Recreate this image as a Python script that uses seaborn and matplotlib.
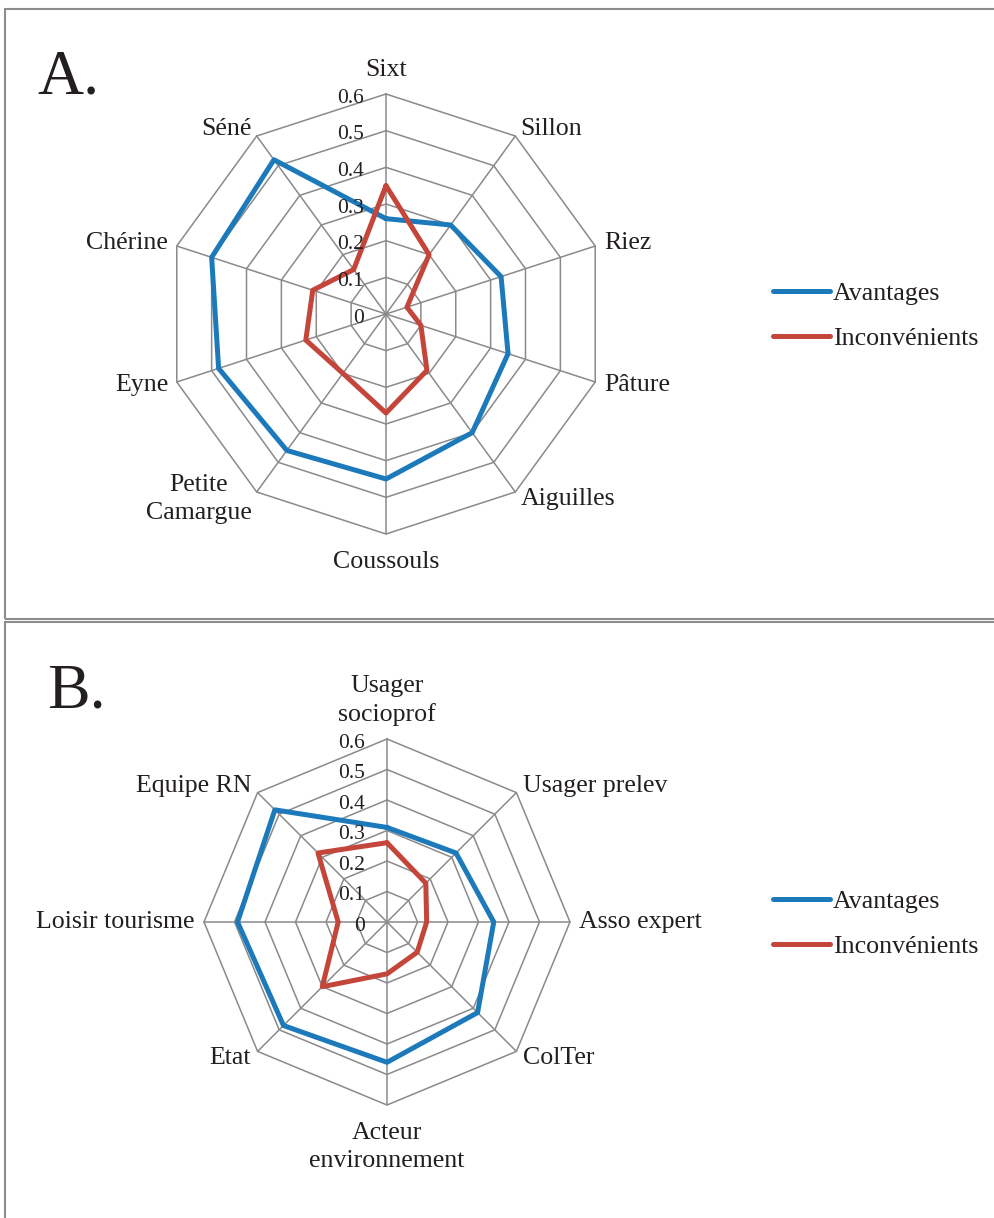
import numpy as np
import pandas as pd
import seaborn as sns
import matplotlib.pyplot as plt
from matplotlib.patches import Rectangle
from matplotlib.transforms import offset_copy

# Panel A data
sites = ["Sixt", "Sillon", "Riez", "Pâture", "Aiguilles", "Coussouls",
         "Petite\nCamargue", "Eyne", "Chérine", "Séné"]
sites_avantages = [0.26, 0.30, 0.33, 0.35, 0.40, 0.45, 0.46, 0.48, 0.50, 0.52]
sites_inconvenients = [0.35, 0.20, 0.06, 0.10, 0.19, 0.27, 0.20, 0.23, 0.21, 0.15]

# Panel B data
acteurs = ["Usager\nsocioprof", "Usager prelev", "Asso expert", "ColTer",
           "Acteur\nenvironnement", "Etat", "Loisir tourisme", "Equipe RN"]
acteurs_avantages = [0.31, 0.32, 0.35, 0.42, 0.46, 0.48, 0.49, 0.52]
acteurs_inconvenients = [0.26, 0.18, 0.13, 0.14, 0.17, 0.30, 0.16, 0.32]

rticks = [0, 0.1, 0.2, 0.3, 0.4, 0.5, 0.6]
rtick_labels = ["0", "0.1", "0.2", "0.3", "0.4", "0.5", "0.6"]
series_names = ["Avantages", "Inconvénients"]
colors = ["#1c7abb", "#c4453a"]

sns.set_style("white")
plt.rcParams["font.family"] = ["Liberation Serif", "DejaVu Serif"]

W, H = 994, 1218
fig = plt.figure(figsize=(W / 100, H / 100), dpi=100)
TXT = "#231f20"
GRID = "#8a8a8a"


def px_axes(cx, cy, r):
    return [(cx - r) / W, 1 - (cy + r) / H, 2 * r / W, 2 * r / H]


def radar(rect, labels, avantages, inconvenients, legend_y):
    ax = fig.add_axes(rect, projection="polar")
    ax.set_theta_zero_location("N")
    ax.set_theta_direction(-1)
    n = len(labels)
    theta = np.linspace(0, 2 * np.pi, n, endpoint=False)
    theta_closed = np.append(theta, 2 * np.pi)

    df = pd.concat([
        pd.DataFrame({"theta": theta_closed,
                      "value": list(avantages) + [avantages[0]],
                      "serie": series_names[0]}),
        pd.DataFrame({"theta": theta_closed,
                      "value": list(inconvenients) + [inconvenients[0]],
                      "serie": series_names[1]}),
    ])
    sns.lineplot(df, x="theta", y="value", hue="serie", palette=colors,
                 sort=False, linewidth=3.6, legend=False, ax=ax, zorder=3)
    data_lines = list(ax.lines)

    # polygon grid
    for r in rticks[1:]:
        ax.plot(theta_closed, [r] * (n + 1), color=GRID, lw=1.1, zorder=1,
                clip_on=False)
    for t in theta:
        ax.plot([t, t], [0, rticks[-1]], color=GRID, lw=1.1, zorder=1,
                clip_on=False)

    ax.set_ylim(0, rticks[-1])
    ax.set_xticks([])
    ax.set_yticks([])
    ax.grid(False)
    ax.spines["polar"].set_visible(False)
    ax.set_xlabel("")
    ax.set_ylabel("")
    ax.patch.set_alpha(0)

    # radial tick labels
    tr = offset_copy(ax.transData, fig=fig, x=-16, y=-3, units="points")
    for r, lab in zip(rticks, rtick_labels):
        ax.text(0, r, lab, transform=tr, ha="right", va="center",
                fontsize=15.5, color=TXT)

    # category labels
    for t, lab in zip(theta, labels):
        s, c = np.sin(t), np.cos(t)
        if abs(s) < 0.1:
            ha = "center"
            va = "bottom" if c > 0 else "top"
            dx, dy = 0, (9 if c > 0 else -12.5)
        else:
            ha = "left" if s > 0 else "right"
            va = "center"
            dx, dy = 6.5 * s, 6.5 * c
        tr = offset_copy(ax.transData, fig=fig, x=dx, y=dy, units="points")
        ax.text(t, rticks[-1], lab, transform=tr, ha=ha, va=va,
                fontsize=18.6, color=TXT, multialignment="center",
                linespacing=1.35)

    leg = ax.legend(data_lines, series_names, loc="center left",
                    bbox_to_anchor=(773 / W, 1 - legend_y / H),
                    bbox_transform=fig.transFigure, frameon=False,
                    borderpad=0, borderaxespad=0, handlelength=2.2,
                    handletextpad=0.12, labelspacing=0.84, fontsize=18.6)
    for t in leg.get_texts():
        t.set_color(TXT)
    return ax


radar(px_axes(386, 314, 220), sites, sites_avantages, sites_inconvenients,
      316)
radar(px_axes(387, 922, 183), acteurs, acteurs_avantages,
      acteurs_inconvenients, 924)

# panel frames
fig.patches.append(Rectangle((5 / W, 1 - 619 / H), 1.0, 610 / H,
                             transform=fig.transFigure, fill=False,
                             edgecolor="#8c8c8c", lw=1.5))
fig.patches.append(Rectangle((5 / W, -0.1), 1.0, 1 - 622 / H + 0.1,
                             transform=fig.transFigure, fill=False,
                             edgecolor="#8c8c8c", lw=1.5))

fig.text(37 / W, 1 - 93 / H, "A.", fontsize=46, color=TXT, ha="left",
         va="baseline")
fig.text(47 / W, 1 - 708 / H, "B.", fontsize=46, color=TXT, ha="left",
         va="baseline")

fig.savefig("out.png", dpi=100)
